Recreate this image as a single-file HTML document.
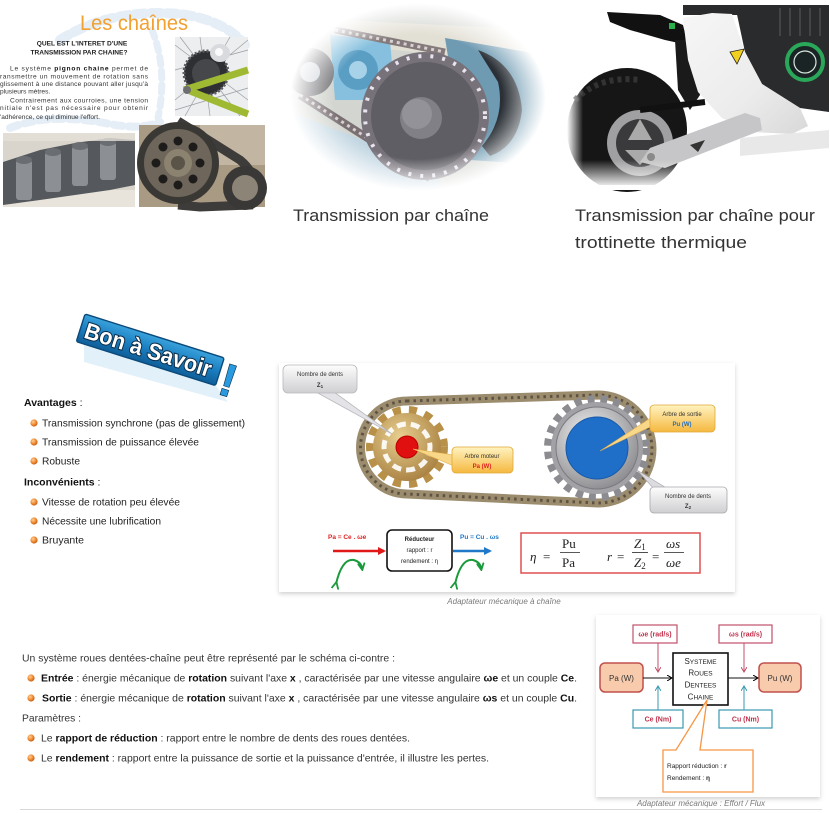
<!DOCTYPE html>
<html><head><meta charset="utf-8">
<style>
html,body{margin:0;padding:0;background:#fff;}
svg{display:block;}
</style></head><body>
<svg width="830" height="813" viewBox="0 0 830 813" xmlns="http://www.w3.org/2000/svg" font-family="'Liberation Sans', Arial, sans-serif">
<defs>
 <radialGradient id="vig" cx="0.5" cy="0.5" r="0.5">
  <stop offset="0.66" stop-color="#fff"/>
  <stop offset="1" stop-color="#000"/>
 </radialGradient>
 <mask id="m1" maskUnits="userSpaceOnUse" x="280" y="0" width="280" height="200">
  <ellipse cx="418" cy="97" rx="128" ry="94" fill="url(#vig)"/>
 </mask>
 <linearGradient id="fadeB" x1="0" y1="0" x2="0" y2="1">
  <stop offset="0" stop-color="#fff" stop-opacity="0"/>
  <stop offset="1" stop-color="#fff" stop-opacity="1"/>
 </linearGradient>
 <linearGradient id="fadeL" x1="1" y1="0" x2="0" y2="0">
  <stop offset="0" stop-color="#fff" stop-opacity="0"/>
  <stop offset="1" stop-color="#fff" stop-opacity="1"/>
 </linearGradient>
 <linearGradient id="fair" x1="0" y1="0" x2="1" y2="1">
  <stop offset="0" stop-color="#f6f6f6"/>
  <stop offset="0.6" stop-color="#ececec"/>
  <stop offset="1" stop-color="#d8d8d8"/>
 </linearGradient>
 <radialGradient id="bul" cx="0.38" cy="0.35" r="0.65">
  <stop offset="0" stop-color="#ffd09a"/>
  <stop offset="0.6" stop-color="#f08a30"/>
  <stop offset="1" stop-color="#c8601a"/>
 </radialGradient>
 <linearGradient id="banner" x1="0" y1="0" x2="0" y2="1">
  <stop offset="0" stop-color="#3aa2dc"/>
  <stop offset="0.5" stop-color="#1a7ec0"/>
  <stop offset="1" stop-color="#0f5e98"/>
 </linearGradient>
 <linearGradient id="greyC" x1="0" y1="0" x2="0" y2="1">
  <stop offset="0" stop-color="#fdfdfd"/>
  <stop offset="1" stop-color="#cfcfd2"/>
 </linearGradient>
 <linearGradient id="yelC" x1="0" y1="0" x2="0" y2="1">
  <stop offset="0" stop-color="#fff3c0"/>
  <stop offset="1" stop-color="#f5b840"/>
 </linearGradient>
 <radialGradient id="silver" cx="0.4" cy="0.35" r="0.7">
  <stop offset="0" stop-color="#f4f4f4"/>
  <stop offset="1" stop-color="#8a8a8e"/>
 </radialGradient>
 <radialGradient id="gold" cx="0.4" cy="0.35" r="0.7">
  <stop offset="0" stop-color="#e8cf90"/>
  <stop offset="1" stop-color="#a88040"/>
 </radialGradient>
 <filter id="sh" x="-5%" y="-5%" width="110%" height="115%">
  <feDropShadow dx="0" dy="2" stdDeviation="2" flood-color="#000" flood-opacity="0.18"/>
 </filter>
 <marker id="arR" markerWidth="8" markerHeight="8" refX="6" refY="4" orient="auto" markerUnits="userSpaceOnUse">
  <path d="M0,0 L8,4 L0,8 Z" fill="#e01818"/>
 </marker>
 <marker id="arB" markerWidth="8" markerHeight="8" refX="6" refY="4" orient="auto" markerUnits="userSpaceOnUse">
  <path d="M0,0 L8,4 L0,8 Z" fill="#1f78c8"/>
 </marker>
 <marker id="arG" markerWidth="8" markerHeight="8" refX="5" refY="4" orient="auto" markerUnits="userSpaceOnUse">
  <path d="M0,0.5 L7,4 L0,7.5" fill="none" stroke="#1a9a3a" stroke-width="1.8"/>
 </marker>
 <marker id="arK" markerWidth="6" markerHeight="6" refX="5" refY="3" orient="auto" markerUnits="userSpaceOnUse">
  <path d="M0,0 L5,3 L0,6" fill="none" stroke="#000" stroke-width="1"/>
 </marker>
 <marker id="arP" markerWidth="6" markerHeight="6" refX="5" refY="3" orient="auto" markerUnits="userSpaceOnUse">
  <path d="M0,0 L5,3 L0,6" fill="none" stroke="#c0506a" stroke-width="1"/>
 </marker>
 <marker id="arT" markerWidth="6" markerHeight="6" refX="5" refY="3" orient="auto" markerUnits="userSpaceOnUse">
  <path d="M0,0 L5,3 L0,6" fill="none" stroke="#3a9ab0" stroke-width="1"/>
 </marker>
</defs>

<!-- ============ TOP LEFT COMPOSITE IMAGE ============ -->
<g>
 <rect x="0" y="6" width="266" height="202" fill="#fff"/>
 <g fill="none" stroke="#dfeaf5" stroke-linecap="round" opacity="0.8">
  <path d="M60,40 Q110,8 180,14 Q225,20 245,45" stroke-width="10" stroke-dasharray="10 6"/>
  <path d="M10,128 Q50,112 110,124 Q140,130 160,122" stroke-width="8" stroke-dasharray="9 6"/>
  <path d="M152,30 Q168,70 158,118" stroke-width="7" stroke-dasharray="8 6"/>
 </g>
 <text x="134" y="30" text-anchor="middle" font-size="21" fill="#f2a030" textLength="108" lengthAdjust="spacingAndGlyphs">Les chaînes</text>
 <g font-size="6.6" font-weight="bold" fill="#222" text-anchor="middle">
  <text x="82" y="45.5">QUEL EST L'INTERET D'UNE</text>
  <text x="79" y="54.5">TRANSMISSION PAR CHAINE?</text>
 </g>
 <g font-size="6.6" fill="#333">
  <text x="10" y="70.5" textLength="138" lengthAdjust="spacing">Le système <tspan font-weight="bold" fill="#111">pignon chaine</tspan> permet de</text>
  <text x="0" y="78.5" textLength="148" lengthAdjust="spacing">ransmettre un mouvement de rotation sans</text>
  <text x="0" y="86" textLength="148" lengthAdjust="spacing">glissement à une distance pouvant aller jusqu'à</text>
  <text x="0" y="93.5">plusieurs mètres.</text>
  <text x="10" y="102.5" textLength="138" lengthAdjust="spacing">Contrairement aux courroies, une tension</text>
  <text x="0" y="110" textLength="148" lengthAdjust="spacing">nitiale n'est pas nécessaire pour obtenir</text>
  <text x="0" y="119">'adhérence, ce qui diminue l'effort.</text>
 </g>
 <!-- bike photo -->
 <g>
  <rect x="175" y="37" width="73" height="79" fill="#eceeef"/>
  <g stroke="#9a9ea4" stroke-width="0.7">
   <line x1="175" y1="45" x2="248" y2="100"/><line x1="180" y1="37" x2="240" y2="116"/>
   <line x1="175" y1="70" x2="248" y2="50"/><line x1="200" y1="37" x2="210" y2="116"/>
   <line x1="175" y1="100" x2="248" y2="40"/><line x1="230" y1="37" x2="185" y2="116"/>
   <line x1="175" y1="110" x2="248" y2="88"/>
  </g>
  <circle cx="206" cy="73" r="22" fill="#2e2f32"/>
  <circle cx="206" cy="73" r="22" fill="none" stroke="#5a5c60" stroke-width="3" stroke-dasharray="2 2"/>
  <circle cx="206" cy="73" r="14" fill="#45474b"/>
  <ellipse cx="220" cy="53" rx="10" ry="9" fill="#d8dade"/>
  <ellipse cx="219" cy="52" rx="4" ry="4" fill="#fafafa"/>
  <path d="M184,90 L248,70" stroke="#9fba32" stroke-width="7"/>
  <path d="M190,91 L248,114" stroke="#9fba32" stroke-width="7"/>
  <circle cx="187" cy="90" r="4" fill="#6c6e70"/>
 </g>
 <!-- chain photo -->
 <g>
  <rect x="3" y="133" width="132" height="74" fill="#d9d5cd"/>
  <rect x="3" y="190" width="132" height="17" fill="#e8e4dc"/>
  <path d="M3,162 L40,150 L75,143 L110,138 L135,140 L135,185 L110,190 L75,195 L40,200 L3,205 Z" fill="#55585c"/>
  <g fill="#8c8f94">
   <rect x="16" y="160" width="16" height="40" rx="3"/>
   <rect x="45" y="152" width="16" height="40" rx="3"/>
   <rect x="72" y="146" width="16" height="40" rx="3"/>
   <rect x="100" y="142" width="16" height="38" rx="3"/>
  </g>
  <g fill="#6a6d72">
   <ellipse cx="24" cy="160" rx="8" ry="4"/><ellipse cx="53" cy="152" rx="8" ry="4"/>
   <ellipse cx="80" cy="146" rx="8" ry="4"/><ellipse cx="108" cy="142" rx="8" ry="4"/>
  </g>
  <rect x="3" y="133" width="132" height="8" fill="#e4e0d8" opacity="0.8"/>
 </g>
 <!-- gear photo -->
 <g>
  <rect x="139" y="125" width="126" height="82" fill="#a99a84"/>
  <rect x="200" y="125" width="65" height="40" fill="#c2b6a2"/>
  <path d="M178,121 L240,160 Q262,178 250,205 L200,207 L178,205" fill="none" stroke="#3e3c3a" stroke-width="9"/>
  <circle cx="178" cy="163" r="41" fill="#3a3834"/>
  <circle cx="178" cy="163" r="34" fill="#6e665a"/>
  <circle cx="178" cy="163" r="14" fill="#8c8270"/>
  <circle cx="178" cy="163" r="7" fill="#5a5448"/>
  <g fill="#1e1c1a">
   <circle cx="178" cy="141" r="4.5"/><circle cx="193" cy="147" r="4.5"/><circle cx="200" cy="163" r="4.5"/>
   <circle cx="193" cy="179" r="4.5"/><circle cx="178" cy="185" r="4.5"/><circle cx="163" cy="179" r="4.5"/>
   <circle cx="156" cy="163" r="4.5"/><circle cx="163" cy="147" r="4.5"/>
  </g>
  <circle cx="245" cy="188" r="22" fill="#3a3836"/>
  <circle cx="245" cy="188" r="13" fill="#8c8476"/>
 </g>
</g>

<!-- ============ TOP MIDDLE PHOTO ============ -->
<g mask="url(#m1)">
 <rect x="285" y="0" width="270" height="200" fill="#d2d5d0"/>
 <path d="M340,20 L545,30 L545,60 L440,55 L350,45 Z" fill="#e2dfd4"/>
 <path d="M285,110 L440,170 L440,200 L285,200 Z" fill="#c2d6e2"/>
 <path d="M330,35 L390,40 L395,100 L335,100 Z" fill="#86c0de"/>
 <circle cx="358" cy="70" r="20" fill="#5a9ec4"/>
 <circle cx="358" cy="70" r="9" fill="#a8d2e8"/>
 <circle cx="310" cy="72" r="24" fill="#7a7a7e"/>
 <circle cx="310" cy="72" r="10" fill="#d0d6dc"/>
 <path d="M445,38 L545,55 L545,165 L470,160 L455,100 Z" fill="#6e9ab2"/>
 <path d="M478,50 Q518,64 522,110 Q518,146 490,156 L482,146 Q506,118 498,82 Z" fill="#2a3036"/>
 <path d="M300,95 L430,178" stroke="#7a7074" stroke-width="8"/>
 <path d="M300,95 L430,178" stroke="#d6d0d0" stroke-width="3" stroke-dasharray="3 4"/>
 <path d="M335,30 L445,52" stroke="#847a7c" stroke-width="7"/>
 <path d="M335,30 L445,52" stroke="#d8d2d2" stroke-width="3" stroke-dasharray="3 4"/>
 <circle cx="425" cy="116" r="64" fill="#77727a"/>
 <circle cx="425" cy="116" r="60" fill="none" stroke="#e8e4f0" stroke-width="4" stroke-dasharray="3 9"/>
 <circle cx="425" cy="116" r="54" fill="#5e5e64"/>
 <circle cx="421" cy="118" r="21" fill="#808086"/>
 <circle cx="417" cy="114" r="15" fill="#929298"/>
</g>

<!-- ============ TOP RIGHT PHOTO ============ -->
<g>
 <rect x="567" y="5" width="262" height="182" fill="#fff"/>
 <rect x="683" y="5" width="146" height="10" fill="#2a2b2c"/>
 <path d="M735,5 L829,5 L829,112 L800,108 L762,84 L745,52 Z" fill="#2a2b2c"/>
 <g stroke="#444" stroke-width="2"><line x1="780" y1="8" x2="780" y2="36"/><line x1="790" y1="8" x2="790" y2="36"/><line x1="800" y1="8" x2="800" y2="36"/><line x1="810" y1="8" x2="810" y2="36"/><line x1="820" y1="8" x2="820" y2="36"/></g>
 <circle cx="805" cy="62" r="18" fill="#1a2424" stroke="#2aa85a" stroke-width="4"/>
 <circle cx="805" cy="62" r="11" fill="none" stroke="#d8e8e0" stroke-width="1.2"/>
 <ellipse cx="627" cy="130" rx="60" ry="62" fill="#161617"/>
 <path d="M575,100 Q600,75 640,80" stroke="#333" stroke-width="6" fill="none" stroke-dasharray="4 4"/>
 <circle cx="640" cy="143" r="33" fill="#a0a0a2"/>
 <circle cx="640" cy="143" r="24" fill="#3a3a3c"/>
 <path d="M640,119 L652,140 L628,140 Z M625,150 L640,165 L655,150 Z" fill="#aaa"/>
 <path d="M607,12 L660,15 L683,25 L688,45 L665,40 L630,30 L610,22 Z" fill="#111"/>
 <rect x="669" y="23" width="6" height="6" fill="#2ab04a"/>
 <path d="M675,40 L690,40 L700,95 L690,110 L678,90 Z" fill="#1a1a1a"/>
 <path d="M683,18 L712,13 L732,14 L745,52 L762,84 L800,108 L808,126 L792,134 L752,132 L722,118 L698,92 L688,60 Z" fill="url(#fair)"/>
 <path d="M730,52 L744,49 L737,64 Z" fill="#f2d020" stroke="#222" stroke-width="0.8"/>
 <path d="M640,110 L705,102" stroke="#111" stroke-width="6"/>
 <path d="M640,162 L650,148 L745,113 L760,118 L762,130 L665,168 Z" fill="#c6c6c8"/>
 <circle cx="651" cy="157" r="4" fill="#8a8a8a"/>
 <path d="M690,145 L705,140 L698,152 Z" fill="#333"/>
 <path d="M740,138 L829,130 L829,148 L740,156 Z" fill="#e8e8e8"/>
 <rect x="567" y="160" width="262" height="28" fill="url(#fadeB)"/>
 <rect x="567" y="5" width="16" height="183" fill="url(#fadeL)"/>
 <rect x="567" y="185" width="262" height="5" fill="#fff"/>
</g>

<!-- top captions -->
<g font-size="16.5" fill="#333">
 <text x="293" y="221" textLength="196" lengthAdjust="spacingAndGlyphs">Transmission par chaîne</text>
 <text x="575" y="221" textLength="240" lengthAdjust="spacingAndGlyphs">Transmission par chaîne pour</text>
 <text x="575" y="248" textLength="172" lengthAdjust="spacingAndGlyphs">trottinette thermique</text>
</g>

<!-- ============ BON A SAVOIR ============ -->
<polygon points="84,345 216,386 228,402 84,362" fill="#d5ebf7" opacity="0.7"/>
<g transform="translate(85,314) rotate(17.5)">
 <rect x="0" y="0" width="146" height="29" rx="2" fill="url(#banner)" stroke="#0b4a7a" stroke-width="1.4"/>
 <text x="5" y="23" font-size="23" font-weight="bold" fill="#fff" stroke="#0b2a44" stroke-width="2" paint-order="stroke" textLength="132" lengthAdjust="spacingAndGlyphs">Bon à Savoir</text>
 <text x="149" y="36" font-size="46" font-weight="bold" fill="#2a9ae0" stroke="#0b2a44" stroke-width="1.2" paint-order="stroke">!</text>
</g>

<!-- Avantages list -->
<g font-size="10.5" fill="#222">
 <text x="24" y="406" font-weight="bold" fill="#111">Avantages <tspan font-weight="normal">:</tspan></text>
 <circle cx="34" cy="423" r="3.6" fill="url(#bul)"/>
 <text x="42" y="426.5" textLength="203" lengthAdjust="spacingAndGlyphs">Transmission synchrone (pas de glissement)</text>
 <circle cx="34" cy="442" r="3.6" fill="url(#bul)"/>
 <text x="42" y="445.5" textLength="157" lengthAdjust="spacingAndGlyphs">Transmission de puissance élevée</text>
 <circle cx="34" cy="461" r="3.6" fill="url(#bul)"/>
 <text x="42" y="464.5" textLength="38" lengthAdjust="spacingAndGlyphs">Robuste</text>
 <text x="24" y="485.5" font-weight="bold" fill="#111">Inconvénients <tspan font-weight="normal">:</tspan></text>
 <circle cx="34" cy="502" r="3.6" fill="url(#bul)"/>
 <text x="42" y="505.5" textLength="138" lengthAdjust="spacingAndGlyphs">Vitesse de rotation peu élevée</text>
 <circle cx="34" cy="521" r="3.6" fill="url(#bul)"/>
 <text x="42" y="524.5" textLength="119" lengthAdjust="spacingAndGlyphs">Nécessite une lubrification</text>
 <circle cx="34" cy="540" r="3.6" fill="url(#bul)"/>
 <text x="42" y="543.5" textLength="42" lengthAdjust="spacingAndGlyphs">Bruyante</text>
</g>

<!-- ============ CHAIN DIAGRAM ============ -->
<rect x="279" y="363" width="456" height="229" fill="#fff" filter="url(#sh)"/>
<!-- chain -->
<path d="M407,401 L598,395 A54,54 0 0 1 598,503 L407,494 A46.5,46.5 0 0 1 407,401 Z" fill="none" stroke="#9c8c6e" stroke-width="9"/>
<path d="M407,401 L598,395 A54,54 0 0 1 598,503 L407,494 A46.5,46.5 0 0 1 407,401 Z" fill="none" stroke="#5e5242" stroke-width="3" stroke-dasharray="2.5 4"/>
<!-- left sprocket -->
<circle cx="407" cy="447" r="37" fill="none" stroke="#b89048" stroke-width="8" stroke-dasharray="8 8"/>
<circle cx="407" cy="447" r="34" fill="url(#gold)"/>
<circle cx="407" cy="447" r="23" fill="none" stroke="#fff" stroke-width="5" stroke-dasharray="9 5" opacity="0.9"/>
<circle cx="407" cy="447" r="11" fill="#e01010" stroke="#b00" stroke-width="1"/>
<!-- right sprocket -->
<circle cx="597" cy="448" r="49" fill="none" stroke="#8c8c90" stroke-width="8" stroke-dasharray="7 6"/>
<circle cx="597" cy="448" r="46" fill="#a2a2a6"/>
<circle cx="597" cy="448" r="41" fill="url(#silver)" stroke="#7a7a80" stroke-width="1"/>
<circle cx="597" cy="448" r="31" fill="#1f6ec8" stroke="#165aa8" stroke-width="1"/>
<!-- callouts -->
<polygon points="316,392 334,392 392,434" fill="#e4e4e8" stroke="#b8b8bc" stroke-width="0.8"/>
<rect x="283" y="365" width="74" height="28" rx="5" fill="url(#greyC)" stroke="#b8b8bc" stroke-width="0.8"/>
<g font-size="6" fill="#333" text-anchor="middle">
 <text x="320" y="376">Nombre de dents</text>
 <text x="320" y="387" font-weight="bold">Z<tspan font-size="4.5" dy="1">1</tspan></text>
</g>
<polygon points="454,455 454,466 413,449" fill="#f8d888" stroke="#e6b050" stroke-width="0.6"/>
<rect x="452" y="447" width="61" height="26" rx="4" fill="url(#yelC)" stroke="#e0a838" stroke-width="0.8"/>
<g font-size="6" text-anchor="middle">
 <text x="482" y="458" fill="#333">Arbre moteur</text>
 <text x="482" y="468" fill="#e02020" font-weight="bold">Pa (W)</text>
</g>
<polygon points="652,417 652,426 600,451" fill="#f8d888" stroke="#e6b050" stroke-width="0.6"/>
<rect x="650" y="405" width="65" height="27" rx="4" fill="url(#yelC)" stroke="#e0a838" stroke-width="0.8"/>
<g font-size="6" text-anchor="middle">
 <text x="682" y="416" fill="#333">Arbre de sortie</text>
 <text x="682" y="426" fill="#1f6ec8" font-weight="bold">Pu (W)</text>
</g>
<polygon points="654,489 668,489 637,470" fill="#dcdce0" stroke="#a8a8ac" stroke-width="0.6"/>
<rect x="650" y="487" width="77" height="26" rx="4" fill="url(#greyC)" stroke="#a8a8ac" stroke-width="0.8"/>
<g font-size="6" fill="#333" text-anchor="middle">
 <text x="688" y="498">Nombre de dents</text>
 <text x="688" y="508" font-weight="bold">Z<tspan font-size="4.5" dy="1">2</tspan></text>
</g>
<!-- bottom row -->
<text x="328" y="539" font-size="6.5" font-weight="bold" fill="#e02020">Pa = Ce . ωe</text>
<line x1="333" y1="551" x2="384" y2="551" stroke="#e01818" stroke-width="2.6" marker-end="url(#arR)"/>
<rect x="387" y="530" width="65" height="41" rx="5" fill="#fff" stroke="#111" stroke-width="1.6"/>
<g font-size="6" fill="#222" text-anchor="middle">
 <text x="419.5" y="541" font-weight="bold">Réducteur</text>
 <text x="419.5" y="552">rapport : r</text>
 <text x="419.5" y="563">rendement : η</text>
</g>
<text x="460" y="539" font-size="6.5" font-weight="bold" fill="#1f78c8">Pu = Cu . ωs</text>
<line x1="453" y1="551" x2="490" y2="551" stroke="#1f78c8" stroke-width="2.6" marker-end="url(#arB)"/>
<path d="M336,584 Q342,558 354,560 Q361,562 362,568" fill="none" stroke="#1a9a3a" stroke-width="2" marker-start="url(#arG)" marker-end="url(#arG)"/>
<path d="M455,584 Q461,558 473,560 Q480,562 481,568" fill="none" stroke="#1a9a3a" stroke-width="2" marker-start="url(#arG)" marker-end="url(#arG)"/>
<rect x="521" y="533" width="179" height="40" fill="#fff" stroke="#e05050" stroke-width="1.5"/>
<g font-family="'Liberation Serif', serif" font-size="13" fill="#222">
 <text x="530" y="561" font-style="italic">η</text>
 <text x="543" y="561">=</text>
 <text x="562" y="548">Pu</text>
 <line x1="560" y1="552.5" x2="580" y2="552.5" stroke="#222" stroke-width="0.8"/>
 <text x="562" y="567">Pa</text>
 <text x="607" y="561" font-style="italic">r</text>
 <text x="617" y="561">=</text>
 <text x="634" y="548" font-style="italic">Z<tspan font-size="9" dy="2" font-style="normal">1</tspan></text>
 <line x1="632" y1="552.5" x2="648" y2="552.5" stroke="#222" stroke-width="0.8"/>
 <text x="634" y="567" font-style="italic">Z<tspan font-size="9" dy="2" font-style="normal">2</tspan></text>
 <text x="652" y="561">=</text>
 <text x="666" y="548" font-style="italic">ωs</text>
 <line x1="664" y1="552.5" x2="684" y2="552.5" stroke="#222" stroke-width="0.8"/>
 <text x="666" y="567" font-style="italic">ωe</text>
</g>
<text x="504" y="604" font-size="8" font-style="italic" fill="#7a7a7a" text-anchor="middle">Adaptateur mécanique à chaîne</text>

<!-- ============ BOTTOM TEXT ============ -->
<g font-size="10.5" fill="#333">
 <text x="22" y="661.5" textLength="373" lengthAdjust="spacingAndGlyphs">Un système roues dentées-chaîne peut être représenté par le schéma ci-contre :</text>
 <circle cx="31" cy="678" r="3.6" fill="url(#bul)"/>
 <text x="41" y="681.5" textLength="536" lengthAdjust="spacingAndGlyphs"><tspan font-weight="bold" fill="#111">Entrée</tspan> : énergie mécanique de <tspan font-weight="bold" fill="#111">rotation</tspan> suivant l'axe <tspan font-weight="bold" fill="#111">x</tspan> , caractérisée par une vitesse angulaire <tspan font-weight="bold" fill="#111">ωe</tspan> et un couple <tspan font-weight="bold" fill="#111">Ce</tspan>.</text>
 <circle cx="31" cy="698" r="3.6" fill="url(#bul)"/>
 <text x="42" y="701.5" textLength="535" lengthAdjust="spacingAndGlyphs"><tspan font-weight="bold" fill="#111">Sortie</tspan> : énergie mécanique de <tspan font-weight="bold" fill="#111">rotation</tspan> suivant l'axe <tspan font-weight="bold" fill="#111">x</tspan> , caractérisée par une vitesse angulaire <tspan font-weight="bold" fill="#111">ωs</tspan> et un couple <tspan font-weight="bold" fill="#111">Cu</tspan>.</text>
 <text x="22" y="721.5" textLength="59" lengthAdjust="spacingAndGlyphs">Paramètres :</text>
 <circle cx="31" cy="738" r="3.6" fill="url(#bul)"/>
 <text x="41" y="741.5" textLength="369" lengthAdjust="spacingAndGlyphs">Le <tspan font-weight="bold" fill="#111">rapport de réduction</tspan> : rapport entre le nombre de dents des roues dentées.</text>
 <circle cx="31" cy="758" r="3.6" fill="url(#bul)"/>
 <text x="41" y="761.5" textLength="448" lengthAdjust="spacingAndGlyphs">Le <tspan font-weight="bold" fill="#111">rendement</tspan> : rapport entre la puissance de sortie et la puissance d'entrée, il illustre les pertes.</text>
</g>

<!-- ============ EFFORT / FLUX DIAGRAM ============ -->
<rect x="596" y="615" width="224" height="182" fill="#fff" filter="url(#sh)"/>
<g font-size="7" text-anchor="middle">
 <rect x="633" y="625" width="44" height="18" fill="#fff" stroke="#c0506a" stroke-width="1.2"/>
 <text x="655" y="636.5" fill="#c0304a" font-weight="bold">ωe (rad/s)</text>
 <rect x="719" y="625" width="53" height="18" fill="#fff" stroke="#c0506a" stroke-width="1.2"/>
 <text x="745.5" y="636.5" fill="#c0304a" font-weight="bold">ωs (rad/s)</text>
 <rect x="600" y="663" width="43" height="29" rx="5" fill="#f8cbad" stroke="#c0504d" stroke-width="1.5"/>
 <text x="621.5" y="681" font-size="8" fill="#333">Pa (W)</text>
 <rect x="759" y="663" width="42" height="29" rx="5" fill="#f8cbad" stroke="#c0504d" stroke-width="1.5"/>
 <text x="780" y="681" font-size="8" fill="#333">Pu (W)</text>
 <rect x="673" y="653" width="55" height="52" fill="#fff" stroke="#111" stroke-width="1.6"/>
 <g fill="#222" font-size="6.5">
  <text x="700.5" y="664"><tspan font-size="8">S</tspan>YSTEME</text>
  <text x="700.5" y="675.5"><tspan font-size="8">R</tspan>OUES</text>
  <text x="700.5" y="687.5"><tspan font-size="8">D</tspan>ENTEES</text>
  <text x="700.5" y="699.5"><tspan font-size="8">C</tspan>HAINE</text>
 </g>
 <rect x="633" y="710" width="50" height="18" fill="#fff" stroke="#3a9ab0" stroke-width="1.2"/>
 <text x="658" y="721.5" fill="#c0304a" font-weight="bold">Ce (Nm)</text>
 <rect x="719" y="710" width="53" height="18" fill="#fff" stroke="#3a9ab0" stroke-width="1.2"/>
 <text x="745.5" y="721.5" fill="#c0304a" font-weight="bold">Cu (Nm)</text>
</g>
<line x1="643" y1="678" x2="672" y2="678" stroke="#111" stroke-width="1" marker-end="url(#arK)"/>
<line x1="728" y1="678" x2="758" y2="678" stroke="#111" stroke-width="1" marker-end="url(#arK)"/>
<line x1="658" y1="643" x2="658" y2="672" stroke="#c0506a" stroke-width="1" marker-end="url(#arP)"/>
<line x1="744" y1="643" x2="744" y2="672" stroke="#c0506a" stroke-width="1" marker-end="url(#arP)"/>
<line x1="658" y1="710" x2="658" y2="686" stroke="#3a9ab0" stroke-width="1" marker-end="url(#arT)"/>
<line x1="744" y1="710" x2="744" y2="686" stroke="#3a9ab0" stroke-width="1" marker-end="url(#arT)"/>
<path d="M663,750 L676,750 L707,700 L700,750 L753,750 L753,792 L663,792 Z" fill="#fff" stroke="#f79646" stroke-width="1.3"/>
<g font-size="6.5" fill="#222">
 <text x="667" y="768">Rapport réduction : <tspan font-weight="bold">r</tspan></text>
 <text x="667" y="780">Rendement : <tspan font-weight="bold">η</tspan></text>
</g>
<text x="701" y="806" font-size="8" font-style="italic" fill="#7a7a7a" text-anchor="middle">Adaptateur mécanique : Effort / Flux</text>
<line x1="20" y1="809.5" x2="822" y2="809.5" stroke="#d8d8d8" stroke-width="1"/>
</svg>
</body></html>
